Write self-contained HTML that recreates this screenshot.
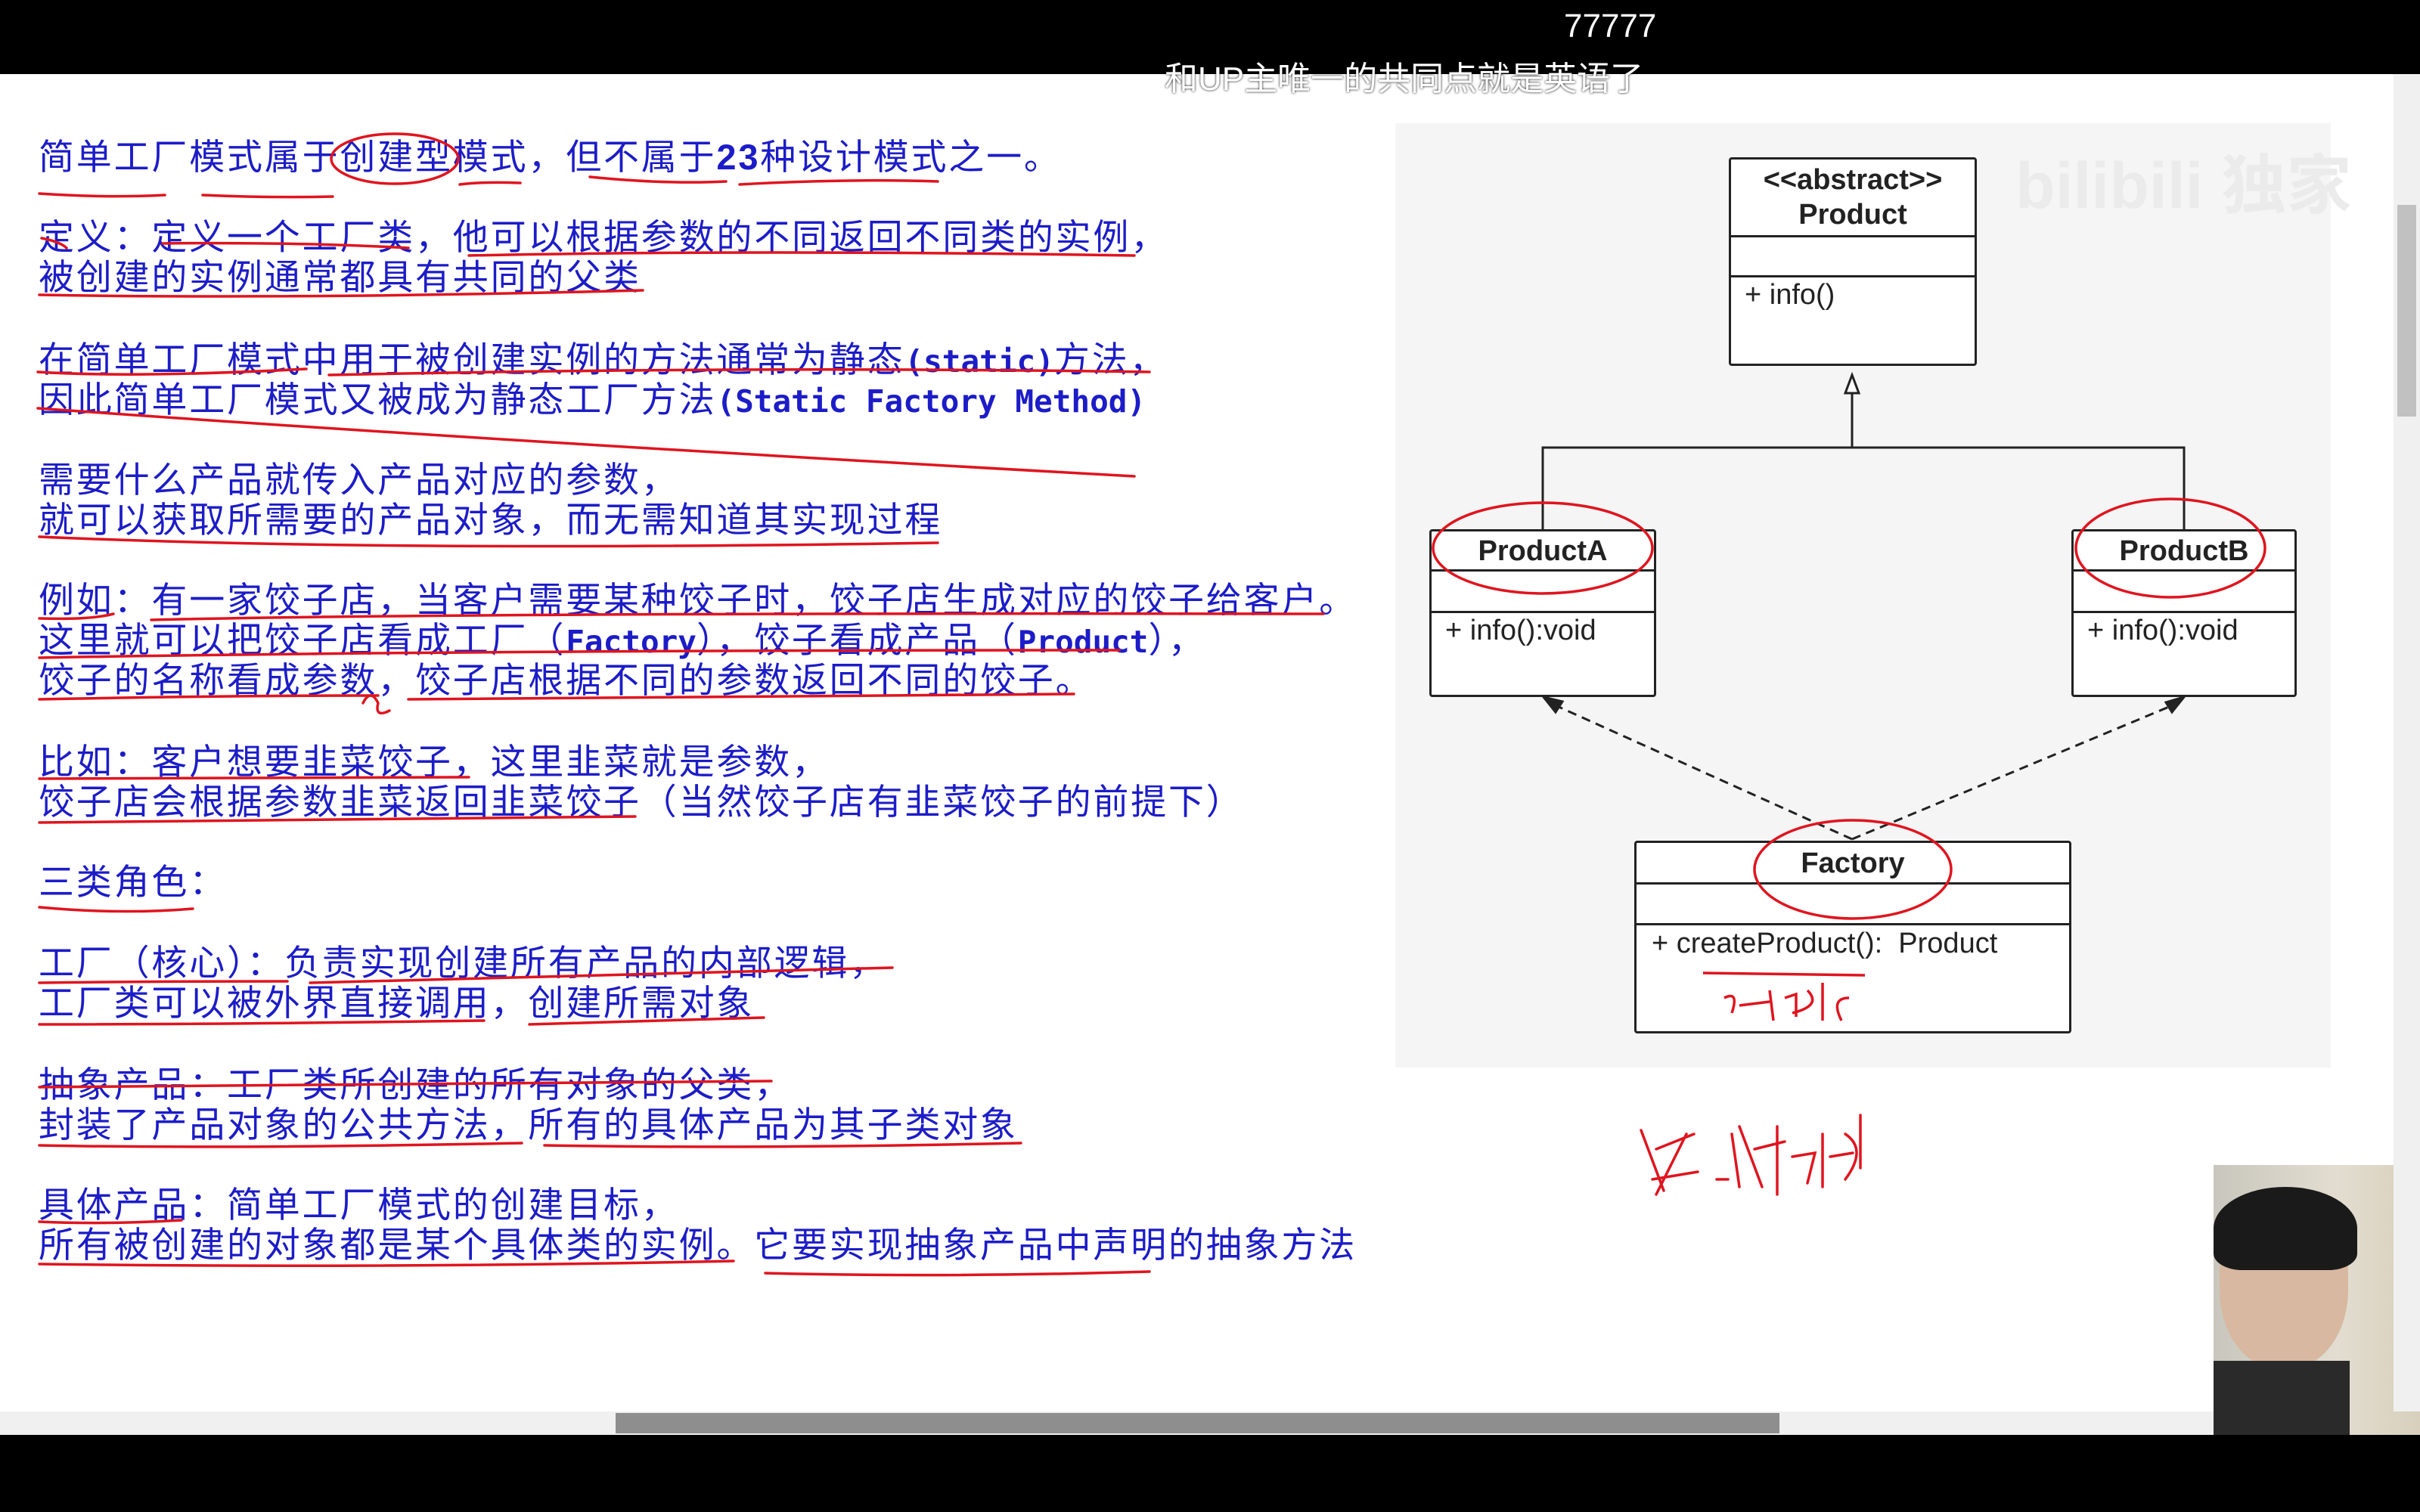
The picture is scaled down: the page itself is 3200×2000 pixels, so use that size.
<!DOCTYPE html>
<html><head><meta charset="utf-8"><style>
*{margin:0;padding:0;box-sizing:border-box}
body{width:3200px;height:2000px;position:relative;overflow:hidden;background:#fff;font-family:"Liberation Sans","Noto Sans CJK SC",sans-serif}
.t{position:absolute;left:51px;font-size:47px;letter-spacing:2.8px;color:#1c1cc8;white-space:nowrap;line-height:54px;font-family:"Liberation Sans","Noto Sans CJK SC",sans-serif}
.b{font-weight:bold;font-family:"DejaVu Sans Mono","Noto Sans CJK SC",monospace;font-size:41px;letter-spacing:0}
.box{position:absolute;border:3px solid #222;background:#fff;border-radius:4px}
.hd{position:absolute;left:0;right:0;text-align:center;font-weight:bold;font-size:38px;color:#222}
.dv{position:absolute;left:0;right:0;height:3px;background:#222}
.m{position:absolute;font-size:38px;color:#222;white-space:nowrap}
</style></head><body>
<div style="position:absolute;left:0;top:0;width:3200px;height:98px;background:#000"></div>
<div style="position:absolute;left:2068px;top:10px;font-size:44px;color:#fff">77777</div>
<div style="position:absolute;left:1540px;top:68px;font-size:44px;color:#fff;font-family:'Liberation Sans','Noto Sans CJK SC',sans-serif;text-shadow:0 0 3px #000">和UP主唯一的共同点就是英语了</div>

<div class="t" style="top:181px">简单工厂模式属于创建型模式，但不属于<span style="font-weight:bold">23</span>种设计模式之一。</div>
<div class="t" style="top:287px">定义：定义一个工厂类，他可以根据参数的不同返回不同类的实例，</div>
<div class="t" style="top:340px">被创建的实例通常都具有共同的父类</div>
<div class="t" style="top:449px">在简单工厂模式中用于被创建实例的方法通常为静态<span class="b">(static)</span>方法，</div>
<div class="t" style="top:502px">因此简单工厂模式又被成为静态工厂方法<span class="b">(Static Factory Method)</span></div>
<div class="t" style="top:608px">需要什么产品就传入产品对应的参数，</div>
<div class="t" style="top:661px">就可以获取所需要的产品对象，而无需知道其实现过程</div>
<div class="t" style="top:767px">例如：有一家饺子店，当客户需要某种饺子时，饺子店生成对应的饺子给客户。</div>
<div class="t" style="top:820px">这里就可以把饺子店看成工厂（<span class="b">Factory</span>），饺子看成产品（<span class="b">Product</span>），</div>
<div class="t" style="top:873px">饺子的名称看成参数，饺子店根据不同的参数返回不同的饺子。</div>
<div class="t" style="top:981px">比如：客户想要韭菜饺子，这里韭菜就是参数，</div>
<div class="t" style="top:1034px">饺子店会根据参数韭菜返回韭菜饺子（当然饺子店有韭菜饺子的前提下）</div>
<div class="t" style="top:1140px">三类角色：</div>
<div class="t" style="top:1247px">工厂（核心）：负责实现创建所有产品的内部逻辑，</div>
<div class="t" style="top:1300px">工厂类可以被外界直接调用，创建所需对象</div>
<div class="t" style="top:1408px">抽象产品：工厂类所创建的所有对象的父类，</div>
<div class="t" style="top:1461px">封装了产品对象的公共方法，所有的具体产品为其子类对象</div>
<div class="t" style="top:1567px">具体产品：简单工厂模式的创建目标，</div>
<div class="t" style="top:1620px">所有被创建的对象都是某个具体类的实例。它要实现抽象产品中声明的抽象方法</div>

<div style="position:absolute;left:1845px;top:163px;width:1237px;height:1249px;background:#f5f5f5"></div>
<div style="position:absolute;left:2665px;top:175px;font-size:86px;font-weight:bold;color:#ebebeb;white-space:nowrap;font-family:'Liberation Sans','Noto Sans CJK SC',sans-serif">bilibili 独家</div>

<svg style="position:absolute;left:0;top:0" width="3200" height="2000">
<g stroke="#222" stroke-width="3" fill="none">
<line x1="2449" y1="520" x2="2449" y2="592"/>
<polyline points="2040,700 2040,592 2888,592 2888,700"/>
<polygon points="2449,496 2440,520 2458,520" fill="#fff"/>
<line x1="2449" y1="1110" x2="2050" y2="930" stroke-dasharray="12,8"/>
<line x1="2449" y1="1110" x2="2880" y2="930" stroke-dasharray="12,8"/>
<polygon points="2041,922 2066,928 2057,942" fill="#222"/>
<polygon points="2888,922 2864,929 2872,942" fill="#222"/>
</g>
<g stroke="#e0141e" stroke-width="3.5" fill="none" stroke-linecap="round">
<path d="M52 256 Q140 262 218 258 M268 258 Q360 262 440 260 M608 244 Q640 240 688 242 M780 234 Q880 244 960 240 M978 244 Q1120 236 1240 240"/>
<ellipse cx="522" cy="210" rx="84" ry="33"/>
<path d="M55 315 Q80 320 88 328 M215 322 Q400 320 540 328 M620 338 Q1000 330 1500 338 M52 390 Q400 396 850 384"/>
<path d="M50 492 Q180 500 405 488 M435 496 Q1000 484 1520 492"/>
<path d="M50 540 Q600 580 1500 630 M52 710 Q500 730 1240 718"/>
<path d="M52 818 Q120 820 150 812 M200 820 Q600 810 1750 812 M52 870 Q600 860 1480 860 M52 925 Q300 920 500 920 M540 925 Q1000 920 1420 918"/>
<path d="M52 1030 Q300 1030 620 1028 M52 1088 Q400 1085 840 1080 M52 1200 Q160 1210 255 1202"/>
<path d="M52 1300 Q200 1298 380 1298 M410 1300 Q800 1290 1180 1280 M52 1355 Q300 1355 640 1350 M700 1355 Q850 1350 1010 1346"/>
<path d="M52 1438 Q400 1434 1020 1430 M52 1515 Q300 1520 690 1512 M720 1515 Q1000 1520 1350 1512 M52 1616 Q140 1620 240 1614 M52 1672 Q500 1678 970 1668 M1012 1684 Q1250 1690 1520 1682"/>
<path d="M480 930 q10 -20 20 0 q-5 20 15 10"/>
<path d="M2340 254 Q2450 258 2560 250"/>
<path d="M2170 1495 l30 80 M2190 1520 l50 -20 M2185 1560 l60 -10 M2230 1500 l-40 80 M2270 1560 l15 0 M2290 1500 l10 70 M2300 1490 l30 80 M2320 1520 l40 -10 M2350 1490 l0 90 M2370 1530 l30 -5 l-10 40 M2410 1500 l0 70 M2420 1530 l30 -5 M2440 1500 q30 20 0 60 M2460 1475 l0 70"/>
</g>
</svg>

<div class="box" style="left:2286px;top:208px;width:328px;height:276px">
<div class="hd" style="top:4px;line-height:46px">&lt;&lt;abstract&gt;&gt;<br>Product</div>
<div class="dv" style="top:100px"></div><div class="dv" style="top:153px"></div>
<div class="m" style="left:18px;top:158px">+ info()</div></div>
<div class="box" style="left:1890px;top:700px;width:300px;height:222px">
<div class="hd" style="top:2px;line-height:48px">ProductA</div>
<div class="dv" style="top:50px"></div><div class="dv" style="top:105px"></div>
<div class="m" style="left:18px;top:110px">+ info():void</div></div>
<div class="box" style="left:2739px;top:700px;width:298px;height:222px">
<div class="hd" style="top:2px;line-height:48px">ProductB</div>
<div class="dv" style="top:50px"></div><div class="dv" style="top:105px"></div>
<div class="m" style="left:18px;top:110px">+ info():void</div></div>
<div class="box" style="left:2161px;top:1112px;width:578px;height:255px">
<div class="hd" style="top:2px;line-height:50px">Factory</div>
<div class="dv" style="top:52px"></div><div class="dv" style="top:106px"></div>
<div class="m" style="left:20px;top:112px">+ createProduct():&nbsp; Product</div></div>

<svg style="position:absolute;left:0;top:0;pointer-events:none" width="3200" height="2000">
<g stroke="#e0141e" stroke-width="3.5" fill="none">
<ellipse cx="2040" cy="725" rx="145" ry="60"/><ellipse cx="2870" cy="725" rx="125" ry="65"/><ellipse cx="2450" cy="1150" rx="130" ry="65"/>
<path d="M2252 1287 L2466 1290"/>
<path d="M2280 1320 q20 -10 10 20 M2300 1330 l40 -5 M2340 1310 l5 40 M2360 1320 l15 -5 l0 30 M2390 1310 q20 20 -20 30 M2410 1300 l0 50 M2445 1320 q-25 0 -10 30"/>
</g></svg>

<div style="position:absolute;left:2927px;top:1541px;width:273px;height:357px;background:linear-gradient(90deg,#c9c6bd,#e2ddd0 60%,#d8d0bc)"></div>
<div style="position:absolute;left:2935px;top:1580px;width:170px;height:230px;border-radius:45%;background:#d8b8a0"></div>
<div style="position:absolute;left:2927px;top:1570px;width:190px;height:110px;border-radius:50% 50% 20% 20%;background:#1a1a1a"></div>
<div style="position:absolute;left:2927px;top:1800px;width:180px;height:98px;background:#2a2a2a"></div>

<div style="position:absolute;left:3165px;top:98px;width:35px;height:1769px;background:#f0f0f0"></div>
<div style="position:absolute;left:3170px;top:271px;width:25px;height:280px;background:#c1c1c1"></div>
<div style="position:absolute;left:0;top:1867px;width:2927px;height:31px;background:#f0f0f0"></div>
<div style="position:absolute;left:814px;top:1869px;width:1539px;height:27px;background:#8e8e8e"></div>
<div style="position:absolute;left:0;top:1898px;width:3200px;height:102px;background:#000"></div>
</body></html>
